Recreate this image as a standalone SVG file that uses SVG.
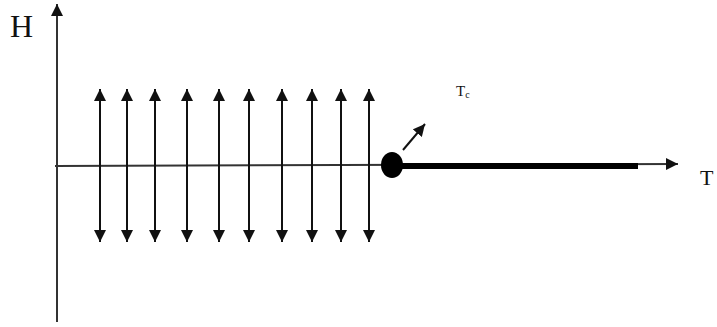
<svg xmlns="http://www.w3.org/2000/svg" width="717" height="327" viewBox="0 0 717 327">
<style>
.ax{stroke:#333;stroke-width:2;fill:none}
.da{stroke:#111;stroke-width:2;fill:none;marker-start:url(#hs);marker-end:url(#he)}
.lbl{font-family:"Liberation Serif",serif;fill:#111}
</style>
<defs>
<marker id="he" viewBox="0 0 10 10" refX="10" refY="5" markerWidth="6" markerHeight="6" orient="auto" markerUnits="strokeWidth"><path d="M0,0 L10,5 L0,10 Z" fill="#111"/></marker>
<marker id="hs" viewBox="0 0 10 10" refX="0" refY="5" markerWidth="6" markerHeight="6" orient="auto" markerUnits="strokeWidth"><path d="M10,0 L0,5 L10,10 Z" fill="#111"/></marker>
</defs>
<rect width="717" height="327" fill="#fff"/>
<g id="connectors">
<line class="ax" x1="57" y1="322" x2="57" y2="4" marker-end="url(#he)"/>
<line class="ax" x1="55" y1="166" x2="678" y2="164" marker-end="url(#he)"/>
<line x1="392" y1="166" x2="638" y2="166" stroke="#000" stroke-width="6"/>
<line x1="403" y1="150" x2="425" y2="124" stroke="#111" stroke-width="2" marker-end="url(#he)"/>
<line class="da" x1="100" y1="89" x2="100" y2="242"/>
<line class="da" x1="127" y1="89" x2="127" y2="242"/>
<line class="da" x1="155" y1="89" x2="155" y2="242"/>
<line class="da" x1="187" y1="89" x2="187" y2="242"/>
<line class="da" x1="219" y1="89" x2="219" y2="242"/>
<line class="da" x1="249" y1="89" x2="249" y2="242"/>
<line class="da" x1="282" y1="89" x2="282" y2="242"/>
<line class="da" x1="312" y1="89" x2="312" y2="242"/>
<line class="da" x1="341" y1="89" x2="341" y2="242"/>
<line class="da" x1="369" y1="89" x2="369" y2="242"/>
</g>
<g id="critical-point">
<ellipse cx="392" cy="165" rx="11" ry="13" fill="#000"/>
</g>
<g id="labels">
<text class="lbl" x="10" y="37" font-size="32">H</text>
<text class="lbl" x="456" y="96" font-size="15">T<tspan font-size="10" dy="2">c</tspan></text>
<text class="lbl" x="700" y="185" font-size="22">T</text>
</g>
</svg>
